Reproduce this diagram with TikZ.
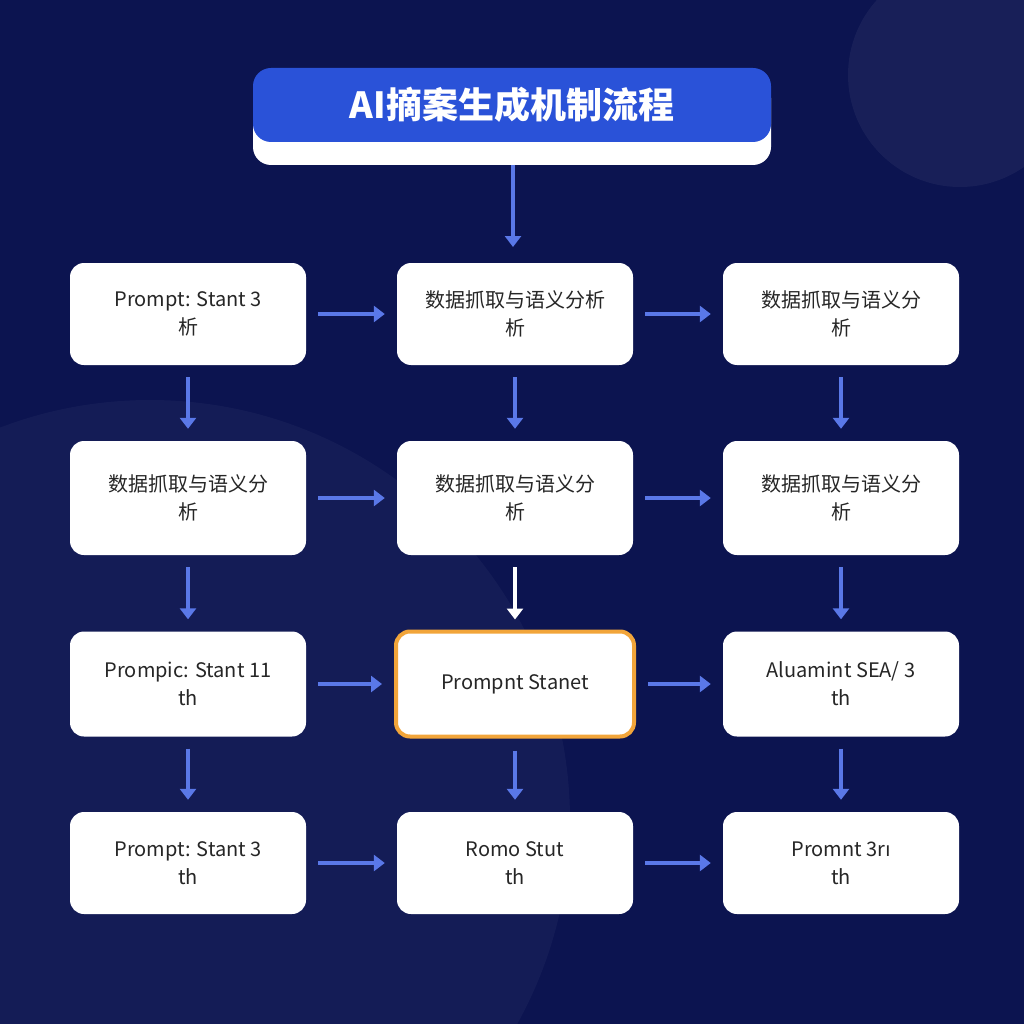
\documentclass[tikz,border=0pt]{standalone}
\usepackage{fontspec}
\setmainfont{Noto Sans CJK SC}
\newfontfamily\ns{Noto Sans}
\usetikzlibrary{arrows.meta}
\definecolor{bg}{HTML}{0C1450}
\definecolor{ac}{HTML}{5A78E8}
\definecolor{tb}{HTML}{2A52D8}
\definecolor{og}{HTML}{F2A53A}
\begin{document}
\begin{tikzpicture}[x=1pt,y=-1pt,
 box/.style={fill=white,rounded corners=14pt,minimum width=236pt,align=center,font=\fontsize{20}{28}\selectfont,text=black!85},
 ar/.style={draw=ac,line width=4pt,-{Triangle[length=11pt,width=16pt]}}]
\useasboundingbox (0,0) rectangle (1024,1024);
\fill[bg] (0,0) rectangle (1024,1024);
\begin{scope}
\clip (0,0) rectangle (1024,1024);
\fill[white,opacity=0.035] (150,820) circle (420);
\fill[white,opacity=0.05] (960,75) circle (112);
\end{scope}
\fill[white,rounded corners=18pt] (253,80) rectangle (771,165);
\node[fill=tb,rounded corners=18pt,minimum width=518pt,minimum height=74pt,text=white,font=\bfseries\fontsize{36}{40}\selectfont] (t) at (512,105) {AI摘案生成机制流程};
\coordinate (ts) at (513,165);
\foreach \r/\y in {1/314,2/498,3/684,4/863}{
 \foreach \c/\x in {1/188,2/515,3/841}{
  \coordinate (p\r\c) at (\x,\y);
 }}
\node[box,minimum height=102pt] (n11) at (p11) {Prompt: Stant 3\\析};
\node[box,minimum height=102pt] (n12) at (p12) {数据抓取与语义分析\\析};
\node[box,minimum height=102pt] (n13) at (p13) {数据抓取与语义分\\析};
\node[box,minimum height=114pt] (n21) at (p21) {数据抓取与语义分\\析};
\node[box,minimum height=114pt] (n22) at (p22) {数据抓取与语义分\\析};
\node[box,minimum height=114pt] (n23) at (p23) {数据抓取与语义分\\析};
\node[box,minimum height=105pt] (n31) at (p31) {Prompic: Stant 11\\th};
\node[box,minimum height=105pt,draw=og,line width=4pt,minimum width=238pt] (n32) at (p32) {Prompnt Stanet};
\node[box,minimum height=105pt] (n33) at (p33) {Aluamint SEA/ 3\\th};
\node[box,minimum height=102pt] (n41) at (p41) {Prompt: Stant 3\\th};
\node[box,minimum height=102pt] (n42) at (p42) {Romo Stut\\th};
\node[box,minimum height=102pt] (n43) at (p43) {Promnt 3r{\ns ı}\\th};
\draw[ar] (ts) -- ++(0,82);
\foreach \r in {1,2,3,4}{
 \draw[ar] ([xshift=12pt]n\r1.east) -- ([xshift=-12pt]n\r2.west);
 \draw[ar] ([xshift=12pt]n\r2.east) -- ([xshift=-12pt]n\r3.west);}
\foreach \a/\b in {1/2,2/3,3/4}{
 \foreach \c in {1,3}{\draw[ar] ([yshift=-12pt]n\a\c.south) -- ([yshift=12pt]n\b\c.north);}}
\draw[ar] ([yshift=-12pt]n12.south) -- ([yshift=12pt]n22.north);
\draw[ar,draw=white] ([yshift=-12pt]n22.south) -- ([yshift=10pt]n32.north);
\draw[ar] ([yshift=-12pt]n32.south) -- ([yshift=12pt]n42.north);
\end{tikzpicture}
\end{document}
